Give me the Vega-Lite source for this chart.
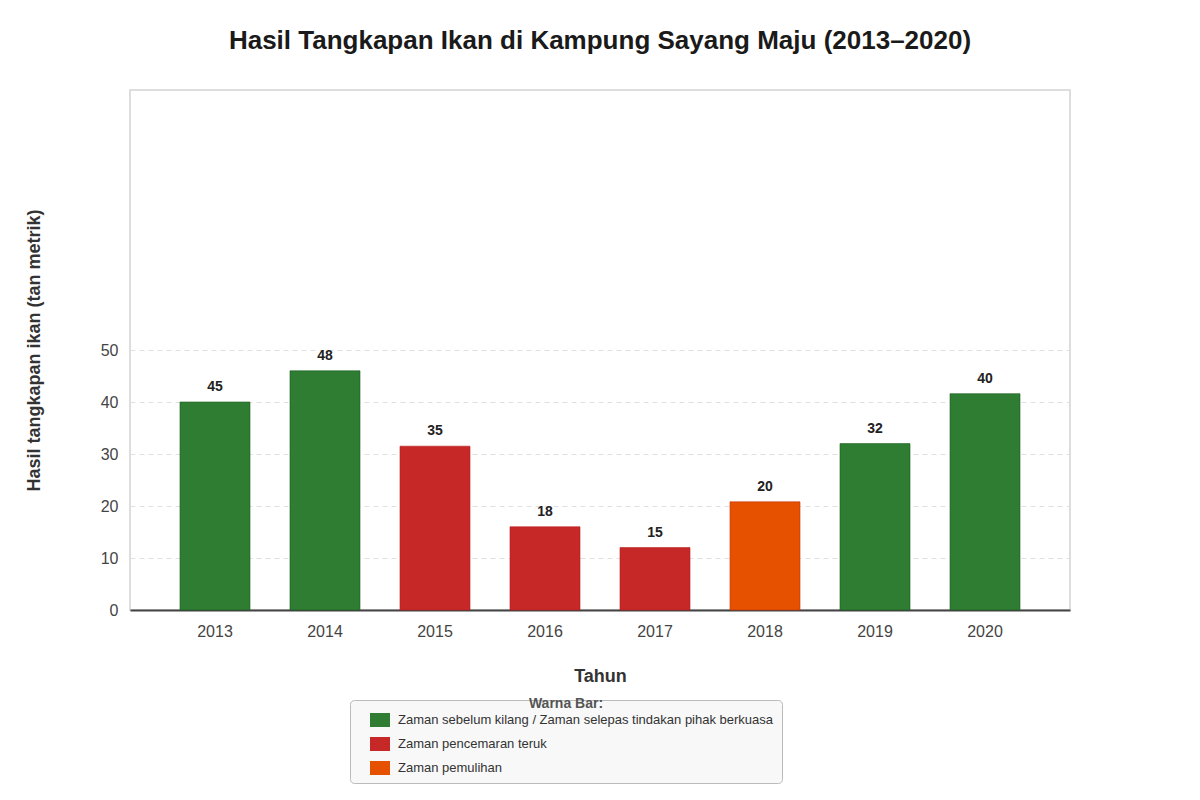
{
  "$schema": "https://vega.github.io/schema/vega-lite/v6.json",
  "autosize": {"type": "none"},
  "width": 940,
  "height": 520,
  "padding": {"left": 130, "top": 90, "right": 130, "bottom": 190},
  "background": "white",
  "title": {
    "text": "Hasil Tangkapan Ikan di Kampung Sayang Maju (2013–2020)",
    "fontSize": 26,
    "fontWeight": "bold",
    "font": "Liberation Sans",
    "color": "#1a1a1a",
    "anchor": "middle",
    "offset": 36
  },
  "config": {
    "font": "Liberation Sans",
    "view": {"stroke": "#dddddd", "strokeWidth": 2}
  },
  "data": {
    "values": [
      {"Tahun": "2013", "nilai": 40, "label": "45", "zaman": "Zaman sebelum kilang / Zaman selepas tindakan pihak berkuasa"},
      {"Tahun": "2014", "nilai": 46, "label": "48", "zaman": "Zaman sebelum kilang / Zaman selepas tindakan pihak berkuasa"},
      {"Tahun": "2015", "nilai": 31.5, "label": "35", "zaman": "Zaman pencemaran teruk"},
      {"Tahun": "2016", "nilai": 16, "label": "18", "zaman": "Zaman pencemaran teruk"},
      {"Tahun": "2017", "nilai": 12, "label": "15", "zaman": "Zaman pencemaran teruk"},
      {"Tahun": "2018", "nilai": 20.8, "label": "20", "zaman": "Zaman pemulihan"},
      {"Tahun": "2019", "nilai": 32, "label": "32", "zaman": "Zaman sebelum kilang / Zaman selepas tindakan pihak berkuasa"},
      {"Tahun": "2020", "nilai": 41.6, "label": "40", "zaman": "Zaman sebelum kilang / Zaman selepas tindakan pihak berkuasa"}
    ]
  },
  "encoding": {
    "x": {
      "field": "Tahun",
      "type": "ordinal",
      "scale": {"paddingInner": 0.3636, "paddingOuter": 0.4545},
      "axis": {
        "title": "Tahun",
        "titleFontSize": 18,
        "titleFontWeight": "bold",
        "titleColor": "#333333",
        "titlePadding": 28,
        "labelAngle": 0,
        "labelFontSize": 16,
        "labelColor": "#444444",
        "labelPadding": 13,
        "ticks": false,
        "domainColor": "#444444",
        "domainWidth": 2
      }
    },
    "y": {
      "field": "nilai",
      "type": "quantitative",
      "scale": {"domain": [0, 100]},
      "axis": {
        "title": "Hasil tangkapan ikan (tan metrik)",
        "titleFontSize": 18,
        "titleFontWeight": "bold",
        "titleColor": "#333333",
        "titleX": -96,
        "titleY": 260,
        "titleAlign": "center",
        "titleBaseline": "middle",
        "values": [0, 10, 20, 30, 40, 50],
        "labelFontSize": 16,
        "labelColor": "#444444",
        "labelPadding": 12,
        "ticks": false,
        "domain": false,
        "gridColor": "#e0e0e0",
        "gridDash": [5, 4],
        "gridWidth": 1
      }
    }
  },
  "layer": [
    {
      "mark": {"type": "bar", "strokeWidth": 1, "strokeOpacity": 0.6},
      "encoding": {
        "color": {
          "field": "zaman",
          "type": "nominal",
          "scale": {
            "domain": [
              "Zaman sebelum kilang / Zaman selepas tindakan pihak berkuasa",
              "Zaman pencemaran teruk",
              "Zaman pemulihan"
            ],
            "range": ["#2e7d32", "#c62828", "#e65100"]
          },
          "legend": {
            "title": "Warna Bar:",
            "orient": "none",
            "legendX": 220,
            "legendY": 610,
            "direction": "vertical",
            "titleFontSize": 14,
            "titleFontWeight": "bold",
            "titleColor": "#555555",
            "titleAnchor": "middle",
            "titleBaseline": "alphabetic",
            "titlePadding": -12,
            "labelFontSize": 13,
            "labelColor": "#333333",
            "labelLimit": 600,
            "labelOffset": 8,
            "symbolType": "M-1,-0.7H1V0.7H-1Z",
            "symbolSize": 400,
            "symbolStrokeWidth": 0,
            "symbolOffset": 12,
            "rowPadding": 7,
            "padding": 8,
            "fillColor": "#f8f8f8",
            "strokeColor": "#bbbbbb",
            "cornerRadius": 4
          }
        },
        "stroke": {
          "field": "zaman",
          "type": "nominal",
          "scale": {
            "domain": [
              "Zaman sebelum kilang / Zaman selepas tindakan pihak berkuasa",
              "Zaman pencemaran teruk",
              "Zaman pemulihan"
            ],
            "range": ["#1b5e20", "#b71c1c", "#bf360c"]
          },
          "legend": null
        }
      }
    },
    {
      "mark": {
        "type": "text",
        "baseline": "bottom",
        "dy": -8,
        "fontSize": 14,
        "fontWeight": "bold",
        "color": "#222222"
      },
      "encoding": {
        "text": {"field": "label"}
      }
    }
  ]
}
